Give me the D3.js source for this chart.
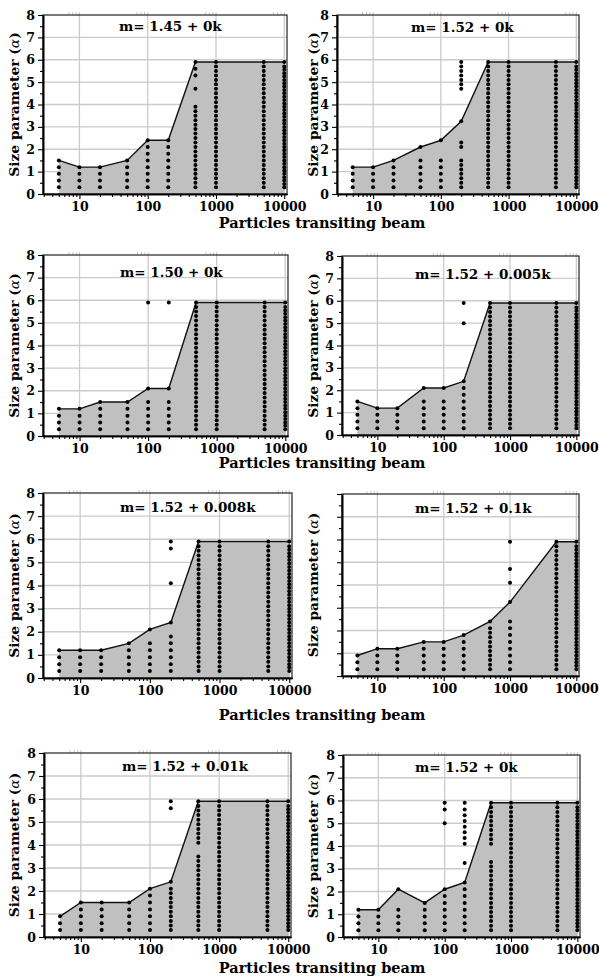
<!DOCTYPE html>
<html><head><meta charset="utf-8">
<script src="https://cdn.jsdelivr.net/npm/d3@7"></script>
<style>
body{margin:0;background:#fff}
svg{display:block}
text{font-family:"DejaVu Serif",serif;font-weight:bold;fill:#000}
</style>
</head><body>
<svg id="c" width="599" height="978"></svg>
<script>
// ---------------- DATA ----------------
const particles = [5, 10, 20, 50, 100, 200, 500, 1000, 5000, 10000];
const xTickValues = [10, 100, 1000, 10000];
const xMinorTicks = [3,4,5,6,7,8,9,20,30,40,50,60,70,80,90,200,300,400,500,600,700,800,900,2000,3000,4000,5000,6000,7000,8000,9000];
const xTopTicks = [7,8,9,10,70,80,90,100,700,800,900,1000,7000,8000,9000,10000];
const yTickValues = [0, 1, 2, 3, 4, 5, 6, 7, 8];
const yMinorTicks = [0.5, 1.5, 2.5, 3.5, 4.5, 5.5, 6.5, 7.5];
const yGridValues = [1, 2, 3, 4, 5, 6, 7];

// size parameters tested (sparse / medium / dense sampling)
const gridA = [0.3,0.6,0.9,1.2,1.5,1.8,2.1,2.4,2.7,3.0,3.3,3.6,3.9,4.2,4.5,4.8,5.1,5.4,5.7];
const gridB = [0.3,0.5,0.7,0.9,1.1,1.3,1.5,1.7,1.9,2.1,2.3,2.5,2.7,2.9,3.1,3.3,3.5,3.7,3.9,4.1,4.3,4.5,4.7,4.9,5.1,5.3,5.5,5.7,5.9];
const gridC = [0.3,0.45,0.6,0.75,0.9,1.05,1.2,1.35,1.5,1.65,1.8,1.95,2.1,2.25,2.4,2.55,2.7,2.85,3.0,3.15,3.3,3.45,3.6,3.75,3.9,4.05,4.2,4.35,4.5,4.65,4.8,4.95,5.1,5.25,5.4,5.55,5.7,5.85];

const panelTitles = ["m= 1.45 + 0k", "m= 1.52 + 0k", "m= 1.50 + 0k", "m= 1.52 + 0.005k",
                     "m= 1.52 + 0.008k", "m= 1.52 + 0.1k", "m= 1.52 + 0.01k", "m= 1.52 + 0k"];
const yAxisTitle = "Size parameter (";
const yAxisSymbol = "\u03b1";
const xAxisTitle = "Particles transiting beam";

// upper boundary (line) per panel, one value per particle count
const boundary1 = [1.5, 1.2, 1.2, 1.5, 2.4, 2.4, 5.9, 5.9, 5.9, 5.9];
const boundary2 = [1.2, 1.2, 1.5, 2.1, 2.4, 3.25, 5.9, 5.9, 5.9, 5.9];
const boundary3 = [1.2, 1.2, 1.5, 1.5, 2.1, 2.1, 5.9, 5.9, 5.9, 5.9];
const boundary4 = [1.5, 1.2, 1.2, 2.1, 2.1, 2.4, 5.9, 5.9, 5.9, 5.9];
const boundary5 = [1.2, 1.2, 1.2, 1.5, 2.1, 2.4, 5.9, 5.9, 5.9, 5.9];
const boundary6 = [0.9, 1.2, 1.2, 1.5, 1.5, 1.8, 2.4, 3.25, 5.9, 5.9];
const boundary7 = [0.9, 1.5, 1.5, 1.5, 2.1, 2.4, 5.9, 5.9, 5.9, 5.9];
const boundary8 = [1.2, 1.2, 2.1, 1.5, 2.1, 2.4, 5.9, 5.9, 5.9, 5.9];

// dot columns: r = ranges of tested values kept, x = isolated values, g = sampling grid
const FULL = {r: [[0.3, 5.9]]};
const dots1 = [{r:[[0.3,1.5]]},{r:[[0.3,1.2]]},{r:[[0.3,1.2]]},{r:[[0.3,1.5]]},{r:[[0.3,2.4]]},{r:[[0.3,2.4]]},
               {r:[[0.3,3.9]], x:[4.7,5.3,5.6]}, FULL, FULL, FULL];
const dots2 = [{r:[[0.3,1.2]]},{r:[[0.3,1.2]]},{r:[[0.3,1.5]]},{r:[[0.3,1.5]]},{r:[[0.3,1.5]]},
               {g:"B", r:[[0.3,1.5],[2.1,2.3],[4.7,5.9]]}, FULL, FULL, FULL, FULL];
const dots3 = [{r:[[0.3,1.2]]},{r:[[0.3,1.2]]},{r:[[0.3,1.5]]},{r:[[0.3,1.5]]},{r:[[0.3,1.5]], x:[5.9]},
               {r:[[0.3,1.5]], x:[5.9]}, FULL, FULL, FULL, FULL];
const dots4 = [{r:[[0.3,1.5]]},{r:[[0.3,1.2]]},{r:[[0.3,1.2]]},{r:[[0.3,1.5]]},{r:[[0.3,1.5]]},
               {r:[[0.3,2.4]], x:[5.0,5.9]}, FULL, FULL, FULL, FULL];
const dots5 = [{r:[[0.3,1.2]]},{r:[[0.3,1.2]]},{r:[[0.3,1.2]]},{r:[[0.3,1.5]]},{r:[[0.3,1.5]]},
               {r:[[0.3,1.8]], x:[4.1,5.6,5.9]}, FULL, FULL, FULL, FULL];
const dots6 = [{r:[[0.3,0.9]]},{r:[[0.3,1.2]]},{r:[[0.3,1.2]]},{r:[[0.3,1.5]]},{r:[[0.3,1.5]]},{r:[[0.3,1.8]]},
               {r:[[0.3,2.1]]}, {g:"A", r:[[0.3,2.4]], x:[4.1,4.7,5.9]}, FULL, FULL];
const dots7 = [{r:[[0.3,0.9]]},{r:[[0.3,1.5]]},{r:[[0.3,1.5]]},{r:[[0.3,1.5]]},{r:[[0.3,2.1]]},
               {g:"B", r:[[0.3,2.1]], x:[5.6,5.9]}, {r:[[0.3,3.5],[4.1,5.9]]}, FULL, FULL, FULL];
const dots8 = [{r:[[0.3,1.2]]},{r:[[0.3,1.2]]},{r:[[0.3,1.2]]},{r:[[0.3,1.5]]},{r:[[0.3,2.1]], x:[5.0,5.6,5.9]},
               {r:[[0.3,2.4]], x:[3.25,4.1,4.35,4.6,4.85,5.1,5.35,5.6,5.9]},
               {r:[[0.3,3.3],[4.1,5.9]]}, FULL, FULL, FULL];

// ---------------- LAYOUT ----------------
const boxes = [
  {L:43, R:287, T:15,  B:194, ty:16, tx:76, yt:19,  labels:true},
  {L:337,R:579, T:15,  B:194, ty:17, tx:74, yt:318, labels:true},
  {L:43, R:288, T:255, B:436, ty:22, tx:77, yt:19,  labels:true},
  {L:342,R:579, T:256, B:435, ty:23, tx:73, yt:318, labels:true},
  {L:43, R:292, T:493, B:678, ty:19, tx:77, yt:19,  labels:true},
  {L:342,R:579, T:494, B:676, ty:19, tx:73, yt:318, labels:false},
  {L:44, R:291, T:753, B:937, ty:18, tx:78, yt:19,  labels:true},
  {L:343,R:580, T:755, B:937, ty:17, tx:72, yt:318, labels:true}
];
const rowTitleY = [228, 468, 720, 973];

const boundaries = [boundary1,boundary2,boundary3,boundary4,boundary5,boundary6,boundary7,boundary8];
const dotSpecs = [dots1,dots2,dots3,dots4,dots5,dots6,dots7,dots8];
const grids = {A: gridA, B: gridB, C: gridC};
function defaultGrid(n){ return n <= 200 ? "A" : (n < 10000 ? "B" : "C"); }

const svg = d3.select("#c");
svg.append("rect").attr("width",599).attr("height",978).attr("fill","#fff");

boxes.forEach((b, i) => {
  const boundary = boundaries[i], spec = dotSpecs[i];
  const x = d3.scaleLog().domain([2.93, 10960]).range([b.L, b.R]);
  const y = d3.scaleLinear().domain([0, 8]).range([b.B, b.T]);
  const g = svg.append("g");

  // gridlines
  g.selectAll(".gy").data(yGridValues).join("line")
    .attr("x1", b.L).attr("x2", b.R).attr("y1", d => y(d)).attr("y2", d => y(d))
    .attr("stroke", "#cbcbcb").attr("stroke-width", 1.3);
  g.selectAll(".gx").data(xTickValues).join("line")
    .attr("x1", d => x(d)).attr("x2", d => x(d)).attr("y1", b.T).attr("y2", b.B)
    .attr("stroke", "#cbcbcb").attr("stroke-width", 1.3);

  // faint top ticks
  g.selectAll(".tt").data(xTopTicks).join("line")
    .attr("x1", d => x(d)).attr("x2", d => x(d)).attr("y1", b.T - 3).attr("y2", b.T)
    .attr("stroke", "#c8c8c8").attr("stroke-width", 1);

  const pts = particles.map((n, j) => [n, boundary[j]]);
  g.append("path")
    .attr("d", d3.area().x(d => x(d[0])).y0(y(0)).y1(d => y(d[1]))(pts))
    .attr("fill", "#c0c0c0");
  g.append("path")
    .attr("d", d3.line().x(d => x(d[0])).y(d => y(d[1]))(pts))
    .attr("fill", "none").attr("stroke", "#111").attr("stroke-width", 1.4);

  // dots
  const dd = [];
  particles.forEach((n, j) => {
    const s = spec[j];
    const grid = grids[s.g || defaultGrid(n)];
    const vals = [boundary[j]];
    const add = v => { if (!vals.some(u => Math.abs(u - v) < 0.07)) vals.push(v); };
    (s.r || []).forEach(([lo, hi]) => grid.forEach(v => { if (v >= lo - 1e-6 && v <= hi + 1e-6) add(v); }));
    (s.x || []).forEach(add);
    vals.forEach(v => dd.push([n, v]));
  });
  g.selectAll("circle").data(dd).join("circle")
    .attr("cx", d => x(d[0])).attr("cy", d => y(d[1])).attr("r", 2).attr("fill", "#000");

  // frame
  g.append("rect").attr("x", b.L).attr("y", b.T).attr("width", b.R - b.L).attr("height", b.B - b.T)
    .attr("fill", "none").attr("stroke", "#222").attr("stroke-width", 1.2);

  // axes
  const styleAxis = sel => {
    sel.attr("font-family", "DejaVu Serif, serif").attr("font-weight", "bold").attr("font-size", 12.5);
    sel.selectAll("line").attr("stroke", "#000").attr("stroke-width", 1.1);
    sel.select(".domain").attr("stroke", "#000").attr("stroke-width", 1.6);
  };
  g.append("g").attr("transform", `translate(0,${b.B})`)
    .call(d3.axisBottom(x).tickValues(xMinorTicks).tickFormat("").tickSize(3).tickSizeOuter(0)).call(styleAxis);
  g.append("g").attr("transform", `translate(0,${b.B})`)
    .call(d3.axisBottom(x).tickValues(xTickValues).tickFormat(d3.format("d")).tickSize(5).tickPadding(3).tickSizeOuter(0)).call(styleAxis);
  g.append("g").attr("transform", `translate(${b.L},0)`)
    .call(d3.axisLeft(y).tickValues(yMinorTicks).tickFormat("").tickSize(3).tickSizeOuter(0)).call(styleAxis);
  g.append("g").attr("transform", `translate(${b.L},0)`)
    .call(d3.axisLeft(y).tickValues(yTickValues).tickFormat(b.labels ? d3.format("d") : "").tickSize(5).tickPadding(3).tickSizeOuter(0)).call(styleAxis);

  // panel title
  g.append("text").attr("x", b.L + b.tx).attr("y", b.T + b.ty)
    .attr("font-size", 13.5).text(panelTitles[i]);

  // y-axis title
  const yt = g.append("text")
    .attr("transform", `translate(${b.yt},${(b.T + b.B) / 2}) rotate(-90)`)
    .attr("text-anchor", "middle").attr("font-size", 13.8);
  yt.append("tspan").text(yAxisTitle);
  yt.append("tspan").attr("font-style", "italic").attr("font-weight", "normal").text(yAxisSymbol);
  yt.append("tspan").text(")");
});

// x-axis titles, one per row
svg.selectAll(".xt").data(rowTitleY).join("text")
  .attr("x", 322).attr("y", d => d).attr("text-anchor", "middle").attr("font-size", 14.5)
  .text(xAxisTitle);
</script>
</body></html>
